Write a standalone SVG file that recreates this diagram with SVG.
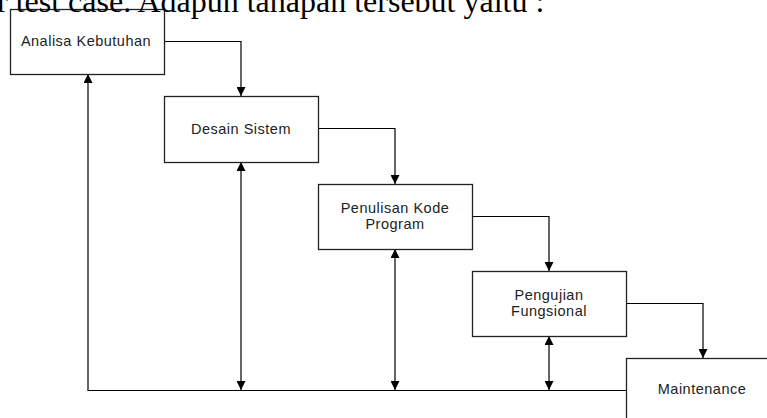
<svg xmlns="http://www.w3.org/2000/svg" width="767" height="418" viewBox="0 0 767 418">
  <defs>
    <marker id="arr" viewBox="0 0 10 10" refX="10" refY="5" markerWidth="9" markerHeight="9" markerUnits="userSpaceOnUse" orient="auto-start-reverse">
      <path d="M0,0 L10,5 L0,10 z" fill="#000"/>
    </marker>
  </defs>
  <style>
    .box { fill: none; stroke: #222; stroke-width: 1.3; }
    .lbl { font-family: "Liberation Sans", Arial, sans-serif; font-size: 14.5px; letter-spacing: 0.5px; fill: #222; text-anchor: middle; }
    .con { fill: none; stroke: #000; stroke-width: 1.2; }
    .head { font-family: "Liberation Serif", "Times New Roman", serif; font-size: 32px; fill: #000; }
  </style>
  <rect width="767" height="418" fill="#fff"/>

  <g id="connectors">
    <path class="con" d="M164,41.5 H241 V96" marker-end="url(#arr)"/>
    <path class="con" d="M318,128.5 H395 V184" marker-end="url(#arr)"/>
    <path class="con" d="M472,216.5 H549 V271" marker-end="url(#arr)"/>
    <path class="con" d="M626,303.5 H703 V358" marker-end="url(#arr)"/>
    <path class="con" d="M626,390.5 H88 V74" marker-end="url(#arr)"/>
    <path class="con" d="M241,162 V390" marker-start="url(#arr)" marker-end="url(#arr)"/>
    <path class="con" d="M395,249 V390" marker-start="url(#arr)" marker-end="url(#arr)"/>
    <path class="con" d="M549,336 V390" marker-start="url(#arr)" marker-end="url(#arr)"/>
  </g>

  <g id="analisa">
    <rect class="box" x="10.5" y="9.5" width="154" height="65"/>
    <text class="lbl" x="86" y="46">Analisa Kebutuhan</text>
  </g>
  <g id="desain">
    <rect class="box" x="164.5" y="96.5" width="154" height="66"/>
    <text class="lbl" x="241" y="134">Desain Sistem</text>
  </g>
  <g id="penulisan">
    <rect class="box" x="318.5" y="184.5" width="154" height="65"/>
    <text class="lbl" x="395" y="213">Penulisan Kode</text>
    <text class="lbl" x="395" y="229">Program</text>
  </g>
  <g id="pengujian">
    <rect class="box" x="472.5" y="271.5" width="154" height="65"/>
    <text class="lbl" x="549" y="300">Pengujian</text>
    <text class="lbl" x="549" y="316">Fungsional</text>
  </g>
  <g id="maintenance">
    <rect class="box" x="626.5" y="358.5" width="160" height="80"/>
    <text class="lbl" x="702" y="394">Maintenance</text>
  </g>

  <text class="head" x="-3" y="12">r test case. Adapun tahapan tersebut yaitu :</text>
</svg>
